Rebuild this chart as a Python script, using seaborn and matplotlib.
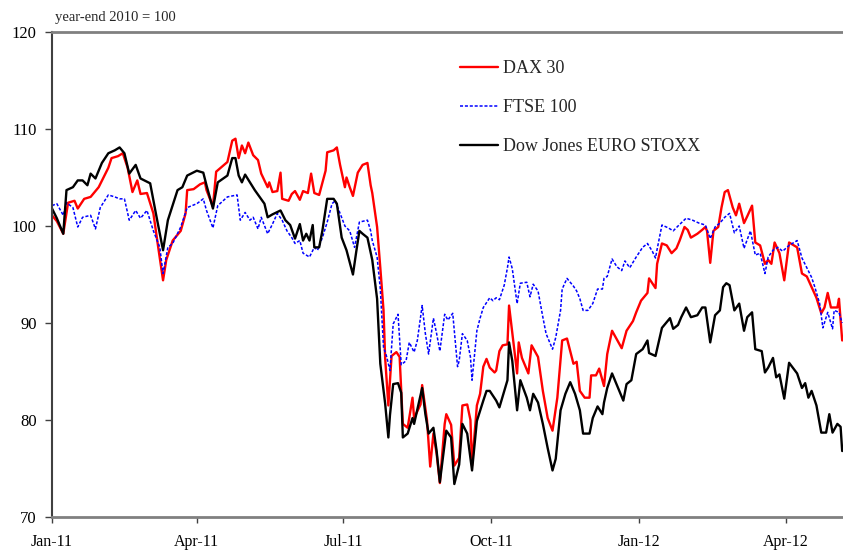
import pandas as pd
import matplotlib.pyplot as plt
import matplotlib.dates as mdates
import seaborn as sns

# stock indices, year-end 2010 = 100
# x values are days after 1 Jan 2011
start = pd.Timestamp("2011-01-01")

dax_day = [0, 3, 7, 10, 14, 16, 20, 24, 29, 32,
           35, 37, 41, 44, 47, 50, 53, 55, 59, 63,
           66, 69, 71, 75, 80, 83, 84, 88, 92, 95,
           96, 100, 102, 109, 112, 114, 116, 118, 120, 122,
           125, 128, 130, 134, 135, 137, 140, 142, 143, 147,
           149, 151, 154, 156, 159, 161, 163, 166, 170, 171,
           175, 177, 179, 182, 183, 185, 187, 190, 193, 196,
           198, 199, 202, 204, 206, 207, 209, 211, 214, 216,
           218, 221, 224, 225, 229, 230, 233, 235, 237, 239,
           241, 244, 245, 248, 250, 253, 255, 258, 260, 261,
           264, 266, 268, 270, 272, 275, 276, 278, 280, 283,
           284, 286, 289, 290, 292, 296, 298, 302, 305, 308,
           311, 314, 317, 320, 324, 326, 328, 331, 334, 335,
           338, 340, 343, 345, 348, 352, 354, 357, 361, 363,
           366, 370, 371, 375, 376, 379, 382, 385, 388, 390,
           393, 395, 397, 401, 404, 406, 407, 409, 411, 414,
           416, 418, 420, 423, 425, 427, 430, 432, 435, 437,
           440, 443, 445, 447, 449, 452, 455, 458, 463, 466,
           469, 472, 475, 478, 480, 482, 484, 488, 489, 491]
dax = [101.1, 100.5, 99.2, 102.4, 102.6, 101.8, 102.8, 103.0, 104.0, 105.0,
       106.0, 107.0, 107.2, 107.5, 106.0, 103.5, 104.7, 103.3, 103.4, 101.3,
       97.8, 94.4, 96.5, 98.5, 99.5, 101.3, 103.7, 103.8, 104.3, 104.5,
       103.7, 102.0, 105.6, 106.6, 108.8, 109.0, 107.0, 108.3, 107.5, 108.6,
       107.3, 106.8, 105.4, 104.0, 104.5, 103.5, 103.6, 105.5, 102.8, 102.6,
       103.3, 103.6, 102.7, 103.6, 103.4, 105.4, 103.4, 103.2, 105.7, 107.6,
       107.8, 108.1, 106.3, 104.0, 105.0, 104.0, 103.1, 105.5, 106.3, 106.5,
       104.2, 103.4, 99.9, 95.7, 91.3, 86.4, 81.5, 86.6, 87.0, 86.5,
       79.6, 79.2, 82.3, 80.2, 81.6, 83.6, 80.0, 75.2, 78.6, 76.5,
       73.5, 79.6, 80.6, 79.5, 75.3, 76.1, 81.5, 81.6, 80.0, 75.3,
       81.5, 82.7, 85.5, 86.3, 85.4, 84.9, 85.1, 87.1, 87.7, 87.8,
       91.8, 89.0, 84.8, 88.0, 86.4, 84.8, 87.7, 86.5, 83.0, 80.2,
       78.9, 82.3, 88.2, 88.4, 85.8, 86.0, 83.0, 82.3, 82.3, 84.6,
       84.6, 85.3, 83.5, 86.8, 89.2, 88.0, 87.4, 89.2, 90.2, 91.1,
       92.3, 93.1, 94.6, 93.6, 96.1, 98.2, 98.0, 97.2, 97.7, 98.5,
       99.9, 99.6, 98.8, 99.2, 99.6, 99.9, 99.5, 96.2, 99.5, 99.9,
       101.9, 103.5, 103.7, 101.9, 101.1, 102.3, 100.3, 101.0, 102.1, 98.3,
       98.0, 96.1, 96.5, 96.1, 98.3, 97.2, 94.4, 98.3, 97.8, 95.1,
       94.8, 93.7, 92.6, 91.0, 91.6, 93.1, 91.6, 91.6, 92.5, 88.2]

ftse_day = [0, 3, 7, 9, 13, 16, 19, 24, 27, 30,
            35, 39, 42, 45, 48, 52, 55, 59, 63, 67,
            69, 72, 75, 80, 84, 90, 94, 96, 100, 103,
            109, 115, 117, 120, 123, 125, 128, 130, 134, 137,
            140, 143, 146, 149, 151, 154, 156, 160, 163, 165,
            168, 171, 174, 176, 179, 182, 185, 188, 191, 196,
            198, 199, 202, 204, 206, 208, 210, 212, 215, 217,
            220, 222, 225, 227, 230, 232, 234, 237, 239, 241,
            244, 246, 249, 252, 253, 255, 258, 260, 261, 264,
            266, 268, 270, 272, 274, 276, 278, 281, 283, 284,
            286, 289, 291, 295, 297, 299, 302, 305, 307, 311,
            313, 316, 317, 320, 324, 326, 328, 330, 333, 336,
            339, 342, 343, 345, 348, 351, 354, 356, 359, 363,
            367, 370, 373, 375, 376, 379, 383, 386, 389, 394,
            398, 402, 406, 409, 412, 415, 418, 421, 424, 427,
            430, 434, 437, 440, 443, 445, 448, 451, 454, 458,
            463, 466, 469, 472, 474, 477, 479, 482, 485, 486,
            489, 491]
ftse = [102.1, 102.3, 101.1, 102.4, 101.9, 99.9, 100.9, 101.1, 99.7, 101.9,
        103.2, 103.0, 102.8, 102.8, 100.6, 101.6, 100.8, 101.6, 99.5, 97.8,
        95.1, 97.8, 98.2, 99.9, 101.9, 102.3, 102.8, 101.6, 99.8, 102.1,
        103.0, 103.2, 100.6, 101.4, 100.6, 100.9, 99.7, 100.9, 99.2, 100.2,
        101.3, 100.6, 99.5, 98.8, 98.2, 98.5, 97.2, 96.8, 97.8, 97.5,
        98.8, 100.4, 102.3, 102.6, 101.3, 100.0, 99.5, 97.8, 100.4, 100.6,
        99.5, 98.5, 96.8, 93.5, 87.5, 86.5, 85.1, 89.9, 90.9, 85.7,
        86.1, 88.0, 87.0, 88.2, 91.8, 88.9, 86.8, 90.5, 88.9, 87.1,
        90.9, 90.3, 91.0, 85.5, 86.1, 88.9, 88.2, 86.5, 84.1, 89.2,
        90.5, 91.6, 92.1, 92.6, 92.3, 92.6, 92.4, 93.9, 95.7, 96.8,
        95.6, 92.0, 94.1, 94.2, 92.7, 94.0, 93.3, 90.6, 88.9, 87.3,
        88.5, 91.3, 93.5, 94.6, 93.8, 93.3, 92.5, 91.3, 91.3, 92.0,
        93.5, 93.5, 94.6, 94.8, 96.6, 95.8, 95.4, 96.4, 95.7, 96.8,
        97.8, 98.2, 97.4, 96.7, 97.6, 100.1, 99.8, 99.5, 100.0, 100.8,
        100.6, 100.3, 100.1, 98.7, 99.9, 100.3, 100.9, 101.3, 99.3, 100.0,
        97.7, 99.5, 97.0, 97.2, 95.1, 96.8, 97.5, 97.8, 97.4, 98.0,
        98.5, 96.7, 95.7, 94.7, 93.7, 92.0, 89.5, 91.1, 89.4, 91.3,
        91.1, 90.0]

stoxx_day = [0, 3, 7, 9, 13, 16, 19, 22, 24, 27,
             31, 35, 39, 42, 45, 48, 52, 55, 61, 65,
             69, 72, 78, 81, 84, 90, 94, 96, 100, 103,
             109, 112, 114, 116, 118, 120, 123, 126, 129, 132,
             134, 137, 142, 145, 148, 151, 154, 156, 158, 160,
             162, 163, 166, 168, 171, 175, 177, 180, 183, 187,
             189, 191, 193, 196, 199, 202, 204, 207, 209, 210,
             212, 215, 217, 218, 221, 224, 225, 230, 232, 234,
             237, 239, 241, 245, 248, 250, 253, 255, 258, 261,
             264, 268, 270, 272, 276, 278, 283, 284, 286, 289,
             291, 295, 297, 299, 302, 305, 308, 311, 313, 316,
             319, 322, 325, 328, 330, 334, 336, 339, 342, 343,
             345, 348, 352, 355, 357, 360, 363, 367, 370, 371,
             375, 379, 384, 386, 389, 391, 394, 397, 401, 404,
             406, 409, 412, 415, 417, 419, 421, 424, 427, 430,
             432, 435, 437, 441, 443, 445, 448, 450, 452, 455,
             458, 463, 466, 468, 470, 472, 475, 478, 481, 483,
             485, 488, 490, 491]
stoxx = [101.8, 100.8, 99.2, 103.7, 104.0, 104.7, 104.7, 104.2, 105.4, 104.9,
         106.5, 107.5, 107.8, 108.1, 107.5, 105.4, 106.3, 104.9, 104.4, 100.9,
         97.5, 100.6, 103.7, 104.0, 105.2, 105.7, 105.5, 104.2, 101.8, 104.5,
         105.2, 107.0, 107.0, 105.2, 104.5, 105.3, 104.5, 103.7, 103.0, 102.3,
         100.9, 101.2, 101.6, 100.6, 100.1, 98.7, 100.2, 98.5, 99.2, 98.5,
         100.1, 97.8, 97.8, 99.5, 102.8, 102.8, 102.3, 98.8, 97.5, 95.0,
         97.3, 99.5, 99.2, 98.8, 96.5, 92.5, 85.8, 81.7, 78.2, 80.5,
         83.7, 83.8, 82.8, 78.2, 78.6, 80.2, 79.6, 83.3, 80.6, 78.6,
         79.2, 76.8, 73.6, 78.9, 78.2, 73.4, 75.4, 79.6, 78.6, 74.8,
         79.9, 82.0, 83.0, 83.0, 82.0, 81.3, 84.1, 88.0, 86.1, 81.0,
         84.1, 82.3, 81.0, 82.7, 81.8, 79.6, 77.1, 74.8, 76.0, 81.0,
         82.7, 83.9, 82.7, 81.0, 78.6, 78.6, 80.2, 81.4, 80.6, 81.8,
         83.3, 84.8, 83.2, 82.0, 83.7, 84.1, 86.8, 87.3, 88.2, 86.9,
         86.6, 89.5, 90.5, 89.4, 89.8, 90.6, 91.6, 90.6, 90.8, 91.6,
         91.6, 88.0, 90.8, 91.3, 93.7, 94.1, 93.9, 91.3, 92.0, 89.2,
         90.6, 91.1, 87.3, 87.1, 84.9, 85.4, 86.4, 84.4, 84.7, 82.2,
         85.9, 84.8, 83.3, 83.8, 82.3, 83.0, 81.5, 78.7, 78.7, 80.6,
         78.7, 79.6, 79.3, 76.8]

sns.set_style("white")
plt.rcParams["font.family"] = ["Liberation Serif", "DejaVu Serif"]


def frame(days, vals):
    return pd.DataFrame({"date": start + pd.to_timedelta(days, unit="D"),
                         "value": vals})


fig = plt.figure(figsize=(8.43, 5.56), dpi=100)
ax = fig.add_axes([52 / 843, 39 / 556, 1 - 52 / 843, 485 / 556])

sns.lineplot(data=frame(dax_day, dax), x="date", y="value", ax=ax,
             color="#ff0000", linewidth=1.7, label="DAX 30")
sns.lineplot(data=frame(ftse_day, ftse), x="date", y="value", ax=ax,
             color="#0000ff", linewidth=1.1, linestyle=(0, (2, 1.2)),
             label="FTSE 100")
sns.lineplot(data=frame(stoxx_day, stoxx), x="date", y="value", ax=ax,
             color="#000000", linewidth=1.7, label="Dow Jones EURO STOXX")

ax.set_ylim(70, 120)
ax.set_yticks(range(70, 121, 10))
ax.set_xlim(start, start + pd.Timedelta(days=491.5))
ax.xaxis.set_major_locator(mdates.MonthLocator(bymonth=[1, 4, 7, 10]))
ax.xaxis.set_major_formatter(mdates.DateFormatter("%b-%y"))
ax.set_xlabel("")
ax.set_ylabel("")

for side in ["top", "bottom"]:
    ax.spines[side].set_color("#808080")
    ax.spines[side].set_linewidth(2)
ax.spines["left"].set_color("#404040")
ax.spines["left"].set_linewidth(1.5)
ax.spines["right"].set_visible(False)

ax.tick_params(axis="y", direction="out", length=5, width=1, color="#404040",
               pad=6, labelsize=12, labelcolor="black", left=True)
ax.tick_params(axis="x", direction="out", length=4, width=1, color="#404040",
               pad=8, labelsize=11.5, labelcolor="black", bottom=True)

ax.legend(loc="upper left", bbox_to_anchor=(460 / 843, 1 - 60 / 556),
          bbox_transform=fig.transFigure, frameon=False, fontsize=13,
          handlelength=2.1, handletextpad=0.3, labelspacing=1.22,
          borderpad=0, borderaxespad=0)

fig.text(55 / 843, 1 - 17 / 556, "year-end 2010 = 100", fontsize=10.5,
         va="center", ha="left")

fig.savefig("out.png", dpi=100)
